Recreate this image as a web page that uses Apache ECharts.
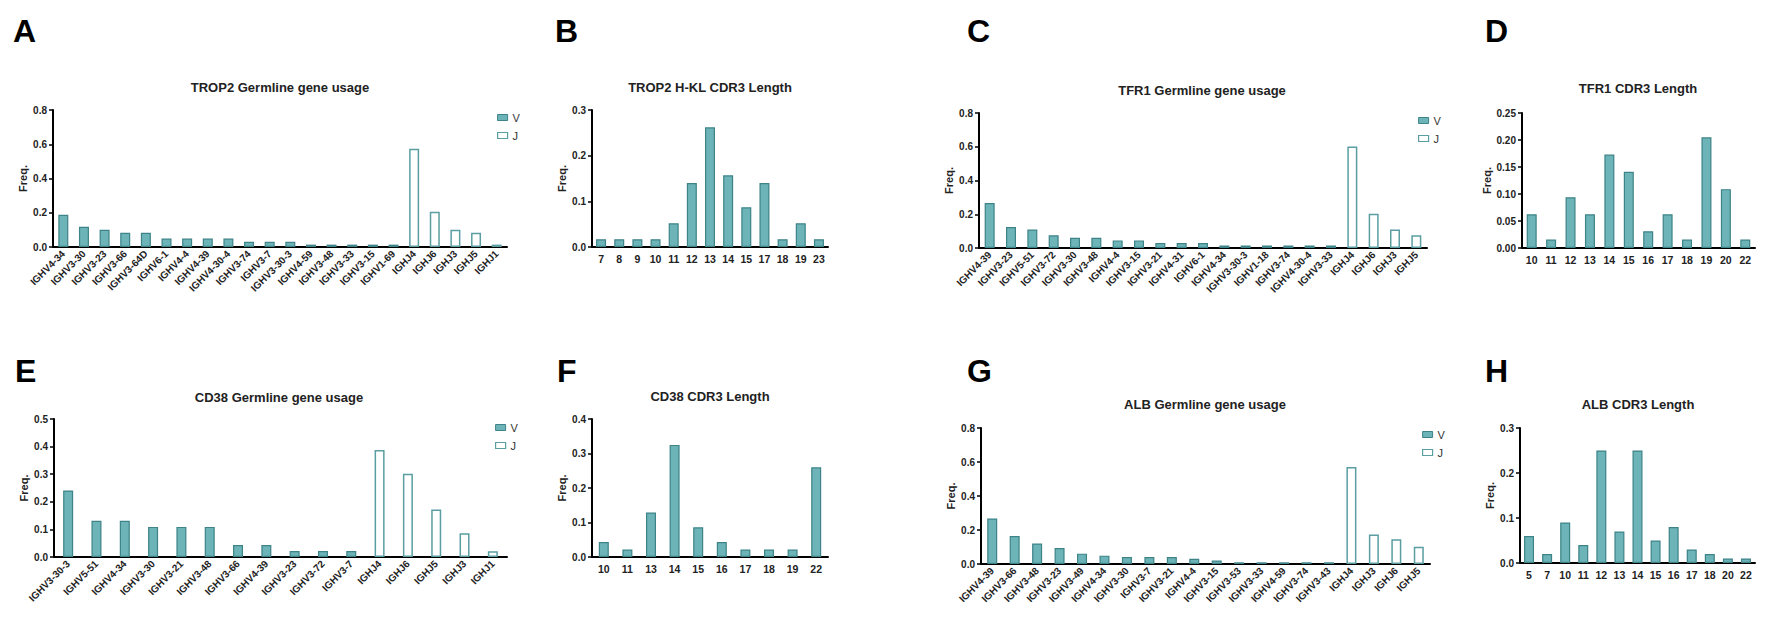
<!DOCTYPE html>
<html><head><meta charset="utf-8">
<script src="https://cdn.jsdelivr.net/npm/echarts@6/dist/echarts.min.js"></script>
<style>html,body{margin:0;padding:0;background:#fff}#c{width:1773px;height:620px}</style>
</head><body><div id="c"></div>
<script>
// ---------- DATA ----------
// A: TROP2 germline
const catA = ['IGHV4-34','IGHV3-30','IGHV3-23','IGHV3-66','IGHV3-64D','IGHV6-1','IGHV4-4','IGHV4-39','IGHV4-30-4','IGHV3-74','IGHV3-7','IGHV3-30-3','IGHV4-59','IGHV3-48','IGHV3-33','IGHV3-15','IGHV1-69','IGHJ4','IGHJ6','IGHJ3','IGHJ5','IGHJ1'];
const vA = [0.188,0.118,0.101,0.083,0.083,0.049,0.049,0.049,0.049,0.031,0.031,0.031,0.014,0.014,0.014,0.014,0.014];
const jA = [0.573,0.206,0.101,0.083,0.014];
// B: TROP2 H-KL CDR3 length
const catB = ['7','8','9','10','11','12','13','14','15','17','18','19','23'];
const valB = [0.017,0.017,0.017,0.017,0.052,0.140,0.262,0.157,0.087,0.140,0.017,0.052,0.017];
// C: TFR1 germline
const catC = ['IGHV4-39','IGHV3-23','IGHV5-51','IGHV3-72','IGHV3-30','IGHV3-48','IGHV4-4','IGHV3-15','IGHV3-21','IGHV4-31','IGHV6-1','IGHV4-34','IGHV3-30-3','IGHV1-18','IGHV3-74','IGHV4-30-4','IGHV3-33','IGHJ4','IGHJ6','IGHJ3','IGHJ5'];
const vC = [0.267,0.124,0.109,0.075,0.061,0.061,0.045,0.045,0.030,0.030,0.030,0.015,0.015,0.015,0.015,0.015,0.015];
const jC = [0.602,0.203,0.109,0.075];
// D: TFR1 CDR3 length
const catD = ['10','11','12','13','14','15','16','17','18','19','20','22'];
const valD = [0.0625,0.0156,0.094,0.0625,0.173,0.141,0.031,0.0625,0.0156,0.205,0.109,0.0156];
// E: CD38 germline
const catE = ['IGHV3-30-3','IGHV5-51','IGHV4-34','IGHV3-30','IGHV3-21','IGHV3-48','IGHV3-66','IGHV4-39','IGHV3-23','IGHV3-72','IGHV3-7','IGHJ4','IGHJ6','IGHJ5','IGHJ3','IGHJ1'];
const vE = [0.241,0.131,0.131,0.109,0.109,0.109,0.0435,0.0435,0.0217,0.0217,0.0217];
const jE = [0.388,0.302,0.172,0.086,0.0205];
// F: CD38 CDR3 length
const catF = ['10','11','13','14','15','16','17','18','19','22'];
const valF = [0.0435,0.0217,0.129,0.325,0.086,0.0435,0.0217,0.0217,0.0217,0.26];
// G: ALB germline
const catG = ['IGHV4-39','IGHV3-66','IGHV3-48','IGHV3-23','IGHV3-49','IGHV4-34','IGHV3-30','IGHV3-7','IGHV3-21','IGHV4-4','IGHV3-15','IGHV3-53','IGHV3-33','IGHV4-59','IGHV3-74','IGHV3-43','IGHJ4','IGHJ3','IGHJ6','IGHJ5'];
const vG = [0.268,0.164,0.121,0.094,0.061,0.049,0.041,0.041,0.041,0.031,0.020,0.010,0.010,0.010,0.010,0.010];
const jG = [0.571,0.174,0.145,0.102];
// H: ALB CDR3 length
const catH = ['5','7','10','11','12','13','14','15','16','17','18','20','22'];
const valH = [0.06,0.02,0.09,0.04,0.25,0.07,0.25,0.05,0.08,0.03,0.02,0.01,0.01];

const titles = ['TROP2 Germline gene usage','TROP2 H-KL CDR3 Length','TFR1 Germline gene usage','TFR1 CDR3 Length','CD38 Germline gene usage','CD38 CDR3 Length','ALB Germline gene usage','ALB CDR3 Length'];
const letters = ['A','B','C','D','E','F','G','H'];

// ---------- STYLE / LAYOUT ----------
const FONT = "'Liberation Sans', Arial, sans-serif";
const FILL = '#6cb4b7', EDGE = '#3d8387', JEDGE = '#5a9ea2';
const panels = [
  {g:{left:53,top:110,width:454,height:137}, cats:catA, v:vA, j:jA, max:0.8, iv:0.2, d:1, tx:280, ty:88, lx:13, ly:15, leg:{left:497,top:112}},
  {g:{left:592,top:110,width:236,height:137}, cats:catB, vals:valB, max:0.3, iv:0.1, d:1, tx:710, ty:88, lx:555, ly:15},
  {g:{left:979,top:113,width:448,height:135}, cats:catC, v:vC, j:jC, max:0.8, iv:0.2, d:1, tx:1202, ty:91, lx:967, ly:15, leg:{left:1418,top:115}},
  {g:{left:1522,top:113,width:233,height:135}, cats:catD, vals:valD, max:0.25, iv:0.05, d:2, tx:1638, ty:89, lx:1485, ly:15},
  {g:{left:54,top:419,width:453,height:138}, cats:catE, v:vE, j:jE, max:0.5, iv:0.1, d:1, tx:279, ty:398, lx:15, ly:355, leg:{left:495,top:422}},
  {g:{left:592,top:419,width:236,height:138}, cats:catF, vals:valF, max:0.4, iv:0.1, d:1, tx:710, ty:397, lx:557, ly:355},
  {g:{left:981,top:428,width:449,height:136}, cats:catG, v:vG, j:jG, max:0.8, iv:0.2, d:1, tx:1205, ty:405, lx:967, ly:355, leg:{left:1422,top:429}},
  {g:{left:1520,top:428,width:235,height:135}, cats:catH, vals:valH, max:0.3, iv:0.1, d:1, tx:1638, ty:405, lx:1485, ly:355}
];

const grid=[], xAxis=[], yAxis=[], series=[], title=[], legend=[];
panels.forEach((p,i)=>{
  grid.push(p.g);
  const germ = !!p.v;
  xAxis.push({gridIndex:i, type:'category', data:p.cats,
    axisLine:{lineStyle:{color:'#000',width:2}},
    axisTick:{alignWithLabel:true,length:4,lineStyle:{color:'#000',width:1.5}},
    axisLabel:{interval:0, rotate: germ?45:0, fontFamily:FONT, fontWeight:'bold', fontSize: germ?10:10.5, color:'#222', margin: germ?5:6}
  });
  yAxis.push({gridIndex:i, type:'value', min:0, max:p.max, interval:p.iv,
    name:'Freq.', nameLocation:'middle', nameGap:25, nameTextStyle:{fontFamily:FONT,fontWeight:'bold',fontSize:11,color:'#222'},
    axisLine:{show:true,lineStyle:{color:'#000',width:2}},
    axisTick:{show:true,length:4,lineStyle:{color:'#000',width:1.5}},
    splitLine:{show:false},
    axisLabel:{formatter:v=>v.toFixed(p.d), fontFamily:FONT, fontWeight:'bold', fontSize:10, color:'#222', margin:6}
  });
  if (germ){
    const vData = p.cats.map((c,k)=> k<p.v.length ? p.v[k] : '-');
    const jData = p.cats.map((c,k)=> k>=p.v.length ? p.j[k-p.v.length] : '-');
    series.push({type:'bar', name:'V', xAxisIndex:i, yAxisIndex:i, stack:'s'+i, barWidth:10, data:vData,
      itemStyle:{color:FILL,borderColor:EDGE,borderWidth:1.2}});
    series.push({type:'bar', name:'J', xAxisIndex:i, yAxisIndex:i, stack:'s'+i, barWidth:10, data:jData,
      itemStyle:{color:'#fff',borderColor:JEDGE,borderWidth:1.5}});
    legend.push({orient:'vertical', left:p.leg.left, top:p.leg.top, itemWidth:10, itemHeight:6, itemGap:7,
      selectedMode:false, padding:0,
      textStyle:{fontFamily:FONT,fontSize:11,color:'#333'},
      data:[{name:'V',icon:'rect',itemStyle:{color:FILL,borderColor:EDGE,borderWidth:1}},
            {name:'J',icon:'rect',itemStyle:{color:'#fff',borderColor:JEDGE,borderWidth:1.2}}]});
  } else {
    series.push({type:'bar', name:'CDR3 '+i, xAxisIndex:i, yAxisIndex:i, barWidth:10, data:p.vals,
      itemStyle:{color:FILL,borderColor:EDGE,borderWidth:1.2}});
  }
  title.push({text:titles[i], left:p.tx, top:p.ty-7, textAlign:'center', padding:0,
    textStyle:{fontFamily:FONT,fontWeight:'bold',fontSize:13,color:'#222'}});
  title.push({text:letters[i], left:p.lx, top:p.ly, padding:0,
    textStyle:{fontFamily:FONT,fontWeight:'bold',fontSize:32,color:'#000'}});
});

const chart = echarts.init(document.getElementById('c'), null, {renderer:'svg'});
chart.setOption({animation:false, backgroundColor:'#fff', title, legend, grid, xAxis, yAxis, series});
</script>
</body></html>
